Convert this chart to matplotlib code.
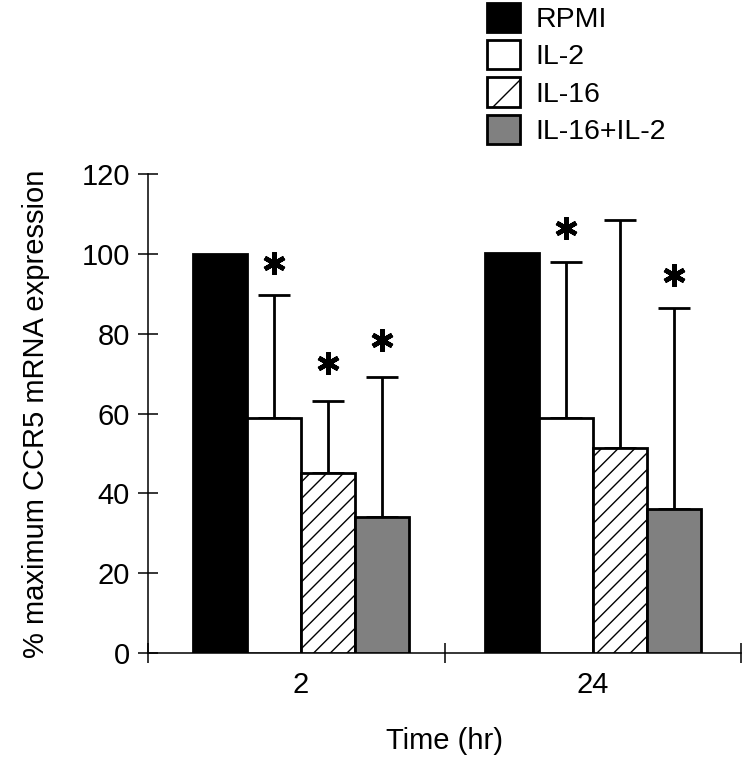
import numpy as np
import matplotlib
matplotlib.use("Agg")
import matplotlib.pyplot as plt
from matplotlib.patches import Patch

plt.rcParams['font.family'] = ['Liberation Sans', 'DejaVu Sans']
plt.rcParams['hatch.linewidth'] = 1.0

# data
groups = ['2', '24']
series = ['RPMI', 'IL-2', 'IL-16', 'IL-16+IL-2']
means = {
    'RPMI': [100.0, 100.3],
    'IL-2': [58.8, 58.8],
    'IL-16': [45.0, 51.3],
    'IL-16+IL-2': [34.0, 36.0],
}
upper_err = {
    'RPMI': [0, 0],
    'IL-2': [30.9, 39.3],
    'IL-16': [18.2, 57.2],
    'IL-16+IL-2': [35.3, 50.6],
}
# significance stars: (series, group index, y)
stars = [('IL-2', 0, 97.7), ('IL-16', 0, 72.6), ('IL-16+IL-2', 0, 78.4),
         ('IL-2', 1, 106.5), ('IL-16+IL-2', 1, 94.8)]

colors = {'RPMI': 'black', 'IL-2': 'white', 'IL-16': 'white', 'IL-16+IL-2': '#808080'}
hatches = {'RPMI': None, 'IL-2': None, 'IL-16': '//', 'IL-16+IL-2': None}

centers = np.array([0.515, 1.5])
width = 0.182

fig = plt.figure(figsize=(7.42, 7.59), dpi=100)
ax = fig.add_axes([0.1995, 0.1397, 0.7992, 0.6307])

for i, s in enumerate(series):
    x = centers + (i - 1.5) * width
    ax.bar(x, means[s], width, color=colors[s], edgecolor='black',
           linewidth=2, hatch=hatches[s], zorder=3)
    err = np.array(upper_err[s])
    if err.sum() > 0:
        ax.errorbar(x, means[s], yerr=[np.zeros_like(err), err], fmt='none',
                    ecolor='black', elinewidth=2, capsize=11.5, capthick=2,
                    zorder=2)

for s, g, y in stars:
    i = series.index(s)
    x = centers[g] + (i - 1.5) * width
    ax.plot(x, y, marker=(6, 2, 0), markersize=16, markeredgewidth=3.3,
            color='black', linestyle='none', zorder=4)

ax.set_xlim(0, 2)
ax.set_ylim(0, 120)
ax.set_yticks(np.arange(0, 121, 20))
ax.set_xticks([0, 1, 2])
ax.set_xticklabels([])
ax.set_xticks(centers, minor=True)
ax.set_xticklabels(groups, minor=True)

ax.spines['top'].set_visible(False)
ax.spines['right'].set_visible(False)
ax.spines['left'].set_linewidth(1.1)
ax.spines['bottom'].set_linewidth(1.1)
ax.tick_params(axis='both', which='major', direction='inout', length=14,
               width=1.1, labelsize=21, pad=1)
ax.tick_params(axis='y', pad=6)
ax.tick_params(axis='x', which='minor', length=0, labelsize=21, pad=13)

ax.set_ylabel('% maximum CCR5 mRNA expression', fontsize=21, labelpad=23)
ax.set_xlabel('Time (hr)', fontsize=21, labelpad=20)

handles = [Patch(facecolor=colors[s], edgecolor='black', linewidth=2,
                 hatch='/' if hatches[s] else None) for s in series]
fig.legend(handles, series, loc='upper left', bbox_to_anchor=(0.653, 1.0),
           frameon=False, fontsize=20.5, handlelength=1.15, handleheight=1.2,
           handletextpad=0.55, labelspacing=0.25, borderpad=0.0,
           borderaxespad=0.1)

fig.savefig('out.png', dpi=100)
